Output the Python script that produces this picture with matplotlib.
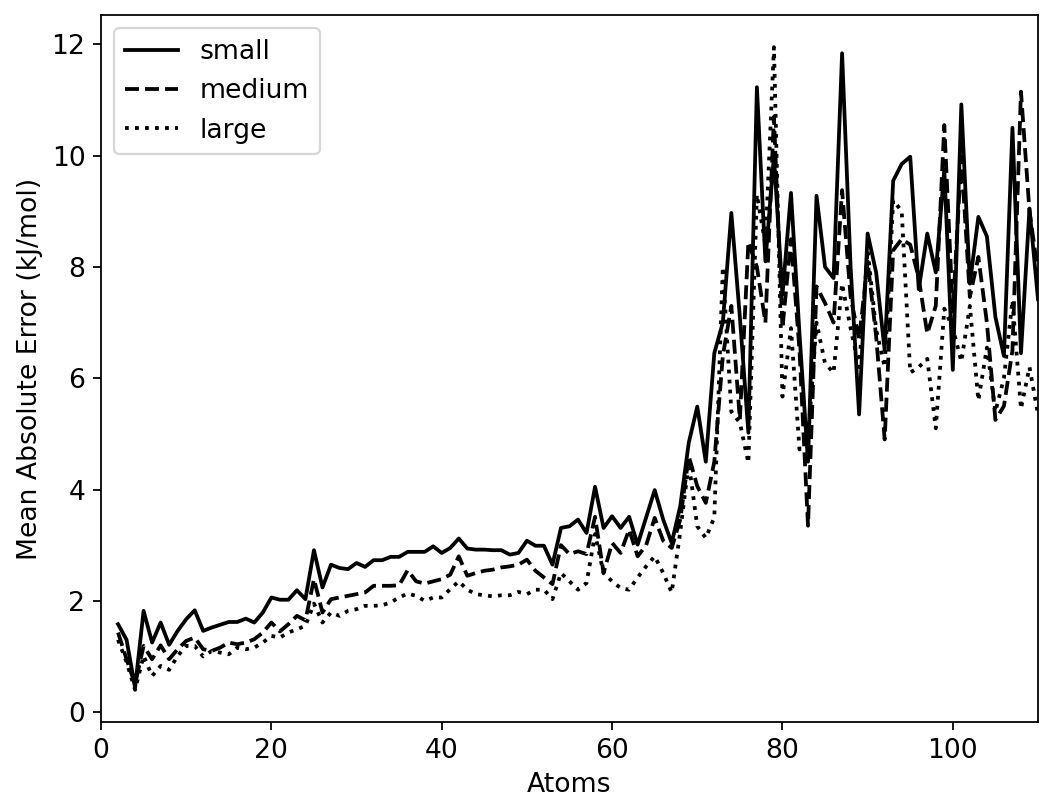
import matplotlib
matplotlib.use('Agg')

import matplotlib.pyplot as plt
import numpy as np

plt.rcParams['font.size'] = 12

# atoms 2..110
atoms = list(range(2, 111))

# mean absolute error per model size (kJ/mol)
small = [1.58, 1.30, 0.44, 1.82, 1.25, 1.61, 1.21, 1.46, 1.67, 1.83,
         1.46, 1.52, 1.57, 1.62, 1.62, 1.68, 1.61, 1.79, 2.06, 2.02,
         2.02, 2.19, 2.03, 2.91, 2.24, 2.65, 2.59, 2.57, 2.68, 2.61,
         2.73, 2.73, 2.79, 2.79, 2.88, 2.88, 2.88, 2.98, 2.86, 2.95,
         3.12, 2.94, 2.92, 2.92, 2.91, 2.91, 2.83, 2.86, 3.08, 2.99,
         2.99, 2.65, 3.31, 3.34, 3.46, 3.22, 4.05, 3.31, 3.52, 3.31,
         3.51, 3.01, 3.50, 3.99, 3.46, 3.04, 3.70, 4.84, 5.49, 4.50,
         6.45, 7.00, 8.97, 7.10, 5.02, 11.23, 8.10, 10.00, 7.50, 9.33,
         6.80, 4.50, 9.28, 8.00, 7.80, 11.84, 8.00, 5.35, 8.60, 7.90,
         6.50, 9.55, 9.85, 9.98, 7.60, 8.60, 7.90, 9.75, 6.15, 10.92,
         7.70, 8.90, 8.55, 7.10, 6.40, 10.50, 6.45, 9.05, 7.42]

medium = [1.43, 0.95, 0.50, 1.19, 0.95, 1.20, 0.95, 1.13, 1.28, 1.34,
          1.13, 1.10, 1.16, 1.25, 1.22, 1.25, 1.31, 1.43, 1.61, 1.45,
          1.58, 1.73, 1.65, 2.39, 1.79, 2.03, 2.06, 2.09, 2.12, 2.15,
          2.27, 2.27, 2.27, 2.28, 2.55, 2.35, 2.31, 2.35, 2.39, 2.47,
          2.80, 2.45, 2.50, 2.54, 2.56, 2.60, 2.62, 2.65, 2.74, 2.54,
          2.42, 2.30, 3.00, 2.84, 2.89, 2.84, 3.51, 2.50, 3.04, 2.86,
          3.28, 2.80, 3.00, 3.49, 3.08, 2.95, 3.46, 4.60, 4.06, 3.76,
          4.50, 6.40, 7.30, 5.26, 8.45, 8.00, 7.00, 10.70, 6.90, 8.50,
          6.50, 3.35, 7.65, 7.35, 7.00, 9.38, 7.46, 6.70, 8.10, 6.75,
          4.90, 8.30, 8.50, 8.40, 7.80, 6.80, 7.30, 10.55, 7.20, 9.98,
          7.46, 8.18, 7.00, 5.25, 5.50, 6.50, 11.15, 9.00, 7.90]

large = [1.30, 0.90, 0.40, 1.01, 0.65, 0.83, 0.76, 1.01, 1.19, 1.19,
         1.00, 1.10, 1.07, 1.04, 1.16, 1.13, 1.16, 1.25, 1.37, 1.34,
         1.43, 1.49, 1.55, 1.95, 1.61, 1.79, 1.73, 1.82, 1.85, 1.91,
         1.91, 1.92, 1.97, 2.06, 2.13, 2.09, 2.00, 2.06, 2.06, 2.21,
         2.35, 2.20, 2.12, 2.10, 2.08, 2.10, 2.10, 2.16, 2.12, 2.20,
         2.20, 2.03, 2.50, 2.35, 2.20, 2.32, 3.20, 2.50, 2.35, 2.23,
         2.20, 2.42, 2.62, 2.80, 2.50, 2.15, 3.24, 4.48, 3.34, 3.13,
         3.50, 8.00, 5.40, 5.20, 4.48, 9.30, 8.40, 11.95, 5.67, 6.90,
         4.72, 4.90, 7.00, 6.27, 6.10, 7.70, 6.90, 6.20, 8.30, 6.87,
         6.20, 9.20, 9.00, 6.10, 6.20, 6.35, 5.10, 7.25, 6.90, 6.30,
         7.30, 5.60, 6.55, 5.40, 6.00, 7.40, 5.45, 6.20, 5.35]

fig = plt.figure(figsize=(1041 / 160, 799 / 160), dpi=160)
ax = fig.add_subplot(111)
fig.subplots_adjust(left=101 / 1041, right=1038 / 1041, top=1 - 15 / 799, bottom=1 - 722 / 799)

ax.plot(atoms, small, color='black', linestyle='-', linewidth=1.7, label='small')
ax.plot(atoms, medium, color='black', linestyle='--', linewidth=1.7, label='medium')
ax.plot(atoms, large, color='black', linestyle=':', linewidth=1.7, label='large')

ax.set_xlim(0, 110)
ax.set_xlabel('Atoms')
ax.set_ylabel('Mean Absolute Error (kJ/mol)')
ax.legend(loc='upper left')

fig.savefig('out.png', dpi=160)
